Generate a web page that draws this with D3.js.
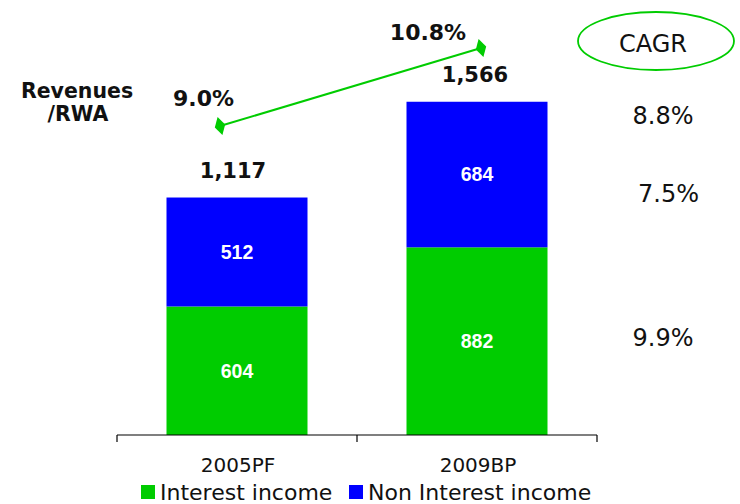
<!DOCTYPE html>
<html>
<head>
<meta charset="utf-8">
<script src="https://cdn.jsdelivr.net/npm/d3@7"></script>
<style>
  body { margin: 0; background: #fff; }
</style>
</head>
<body>
<script>
// data
var years = ["2005PF", "2009BP"];
var interestIncome = [604, 882];
var nonInterestIncome = [512, 684];
var totals = ["1,117", "1,566"];
var revRwa = [9.0, 10.8];
var cagrLabels = ["8.8%", "7.5%", "9.9%"];
var seriesNames = ["Interest income", "Non Interest income"];
var colors = ["#00cc00", "#0000ff"];

var svg_w = 740, svg_h = 504;
var svg = d3.select("body").append("svg")
  .attr("width", svg_w)
  .attr("height", svg_h);

var x = d3.scaleBand()
  .domain(years)
  .range([117, 597])
  .paddingInner(0.4125)
  .paddingOuter(0.20625);

var y = d3.scaleLinear()
  .domain([0, 2000])
  .range([435, 9.4]);

// stacked bars
var rows = years.map(function(d, i) {
  return { year: d, interest: interestIncome[i], non: nonInterestIncome[i] };
});
var stack = d3.stack().keys(["interest", "non"]);
var layers = stack(rows);

var g = svg.append("g");
layers.forEach(function(layer, li) {
  g.selectAll(".bar" + li)
    .data(layer)
    .enter()
    .append("rect")
    .attr("x", function(d) { return x(d.data.year); })
    .attr("y", function(d) { return y(d[1]); })
    .attr("width", x.bandwidth())
    .attr("height", function(d) { return y(d[0]) - y(d[1]); })
    .attr("fill", colors[li]);

  g.selectAll(".lab" + li)
    .data(layer)
    .enter()
    .append("text")
    .attr("x", function(d) { return x(d.data.year) + x.bandwidth() / 2; })
    .attr("y", function(d) { return (y(d[0]) + y(d[1])) / 2; })
    .attr("dy", "0.35em")
    .attr("text-anchor", "middle")
    .attr("fill", "#fff")
    .style("font", "bold 19.5px 'Liberation Sans', Arial, sans-serif")
    .text(function(d) { return d[1] - d[0]; });
});

// totals
g.selectAll(".total")
  .data(rows)
  .enter()
  .append("text")
  .attr("x", function(d, i) { return x(d.year) + x.bandwidth() / 2 - (i == 0 ? 4 : 2); })
  .attr("y", function(d) { return y(d.interest + d.non) - 20; })
  .attr("text-anchor", "middle")
  .attr("fill", "#111")
  .style("font", "bold 21px 'DejaVu Sans', Verdana, sans-serif")
  .text(function(d, i) { return totals[i]; });

// axis
var axis = svg.append("g")
  .attr("transform", "translate(0,435)");
axis.append("line")
  .attr("x1", 117).attr("x2", 597)
  .attr("stroke", "#000").attr("stroke-width", 1.2);
var tickX = [x.range()[0]].concat(years.map(function(d) { return x(d) - x.step() * x.paddingInner() / 2 + x.step(); }));
axis.selectAll(".tk")
  .data(tickX)
  .enter()
  .append("line")
  .attr("x1", function(d) { return d; })
  .attr("x2", function(d) { return d; })
  .attr("y1", 0).attr("y2", 7)
  .attr("stroke", "#000").attr("stroke-width", 1.2);
axis.selectAll(".tl")
  .data(years)
  .enter()
  .append("text")
  .attr("x", function(d) { return x(d) + x.bandwidth() / 2 + 1; })
  .attr("y", 37)
  .attr("text-anchor", "middle")
  .attr("fill", "#111")
  .style("font", "20px 'DejaVu Sans', Verdana, sans-serif")
  .text(function(d) { return d; });

// Revenues / RWA line
var lx = d3.scaleLinear().domain([0, 1]).range([220, 481]);
var ly = d3.scaleLinear().domain([9.0, 10.8]).range([126, 48]);
var line = d3.line()
  .x(function(d, i) { return lx(i); })
  .y(function(d) { return ly(d); });
svg.append("path")
  .datum(revRwa)
  .attr("d", line)
  .attr("fill", "none")
  .attr("stroke", "#00cc00")
  .attr("stroke-width", 2);
svg.selectAll(".mk")
  .data(revRwa)
  .enter()
  .append("path")
  .attr("d", d3.symbol().type(d3.symbolDiamond).size(100))
  .attr("transform", function(d, i) { return "translate(" + lx(i) + "," + ly(d) + ") rotate(-15)"; })
  .attr("fill", "#00cc00");
var pctDx = [-16.5, -53];
var pctDy = [-20, -8];
svg.selectAll(".pl")
  .data(revRwa)
  .enter()
  .append("text")
  .attr("x", function(d, i) { return lx(i) + pctDx[i]; })
  .attr("y", function(d, i) { return ly(d) + pctDy[i]; })
  .attr("text-anchor", "middle")
  .attr("fill", "#111")
  .style("font", "bold 22px 'DejaVu Sans', Verdana, sans-serif")
  .text(function(d) { return d.toFixed(1) + "%"; });

// Revenues/RWA label
var rl = svg.append("text")
  .attr("text-anchor", "middle")
  .attr("fill", "#111")
  .style("font", "bold 20.5px 'DejaVu Sans', Verdana, sans-serif");
rl.append("tspan").attr("x", 77).attr("y", 98).text("Revenues");
rl.append("tspan").attr("x", 78).attr("y", 121).text("/RWA");

// CAGR
svg.append("ellipse")
  .attr("cx", 656).attr("cy", 41)
  .attr("rx", 78).attr("ry", 29)
  .attr("fill", "none")
  .attr("stroke", "#00cc00")
  .attr("stroke-width", 1.8);
svg.append("text")
  .attr("x", 653).attr("y", 52)
  .attr("text-anchor", "middle")
  .attr("fill", "#111")
  .style("font", "24px 'DejaVu Sans', Verdana, sans-serif")
  .text("CAGR");
var cagrX = [663, 668.5, 663];
var cagrY = [124, 202, 346];
svg.selectAll(".cg")
  .data(cagrLabels)
  .enter()
  .append("text")
  .attr("x", function(d, i) { return cagrX[i]; })
  .attr("y", function(d, i) { return cagrY[i]; })
  .attr("text-anchor", "middle")
  .attr("fill", "#111")
  .style("font", "24px 'DejaVu Sans', Verdana, sans-serif")
  .text(function(d) { return d; });

// legend
var legX = [141, 349];
var leg = svg.selectAll(".leg")
  .data(seriesNames)
  .enter()
  .append("g")
  .attr("transform", function(d, i) { return "translate(" + legX[i] + ",485)"; });
leg.append("rect")
  .attr("width", 14).attr("height", 14)
  .attr("fill", function(d, i) { return colors[i]; });
leg.append("text")
  .attr("x", 19).attr("y", 15)
  .attr("fill", "#111")
  .style("font", "22px 'DejaVu Sans', Verdana, sans-serif")
  .text(function(d) { return d; });
</script>
</body>
</html>
